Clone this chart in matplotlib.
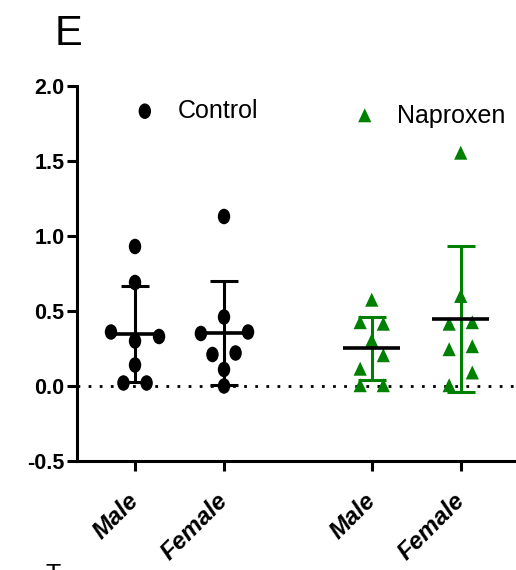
import matplotlib
matplotlib.use('Agg')
import matplotlib.pyplot as plt
import numpy as np
from matplotlib.path import Path
from matplotlib.transforms import ScaledTranslation

# ------------------------
# Data
# ------------------------
groups = ['Male', 'Female', 'Male', 'Female']
treatment = ['Control', 'Control', 'Naproxen', 'Naproxen']

control_male = [0.93, 0.69, 0.36, 0.30, 0.33, 0.14, 0.02, 0.02]
control_female = [1.13, 0.46, 0.35, 0.36, 0.21, 0.22, 0.11, 0.00]
naproxen_male = [0.57, 0.42, 0.41, 0.30, 0.20, 0.11, 0.00, 0.00]
naproxen_female = [1.55, 0.595, 0.41, 0.42, 0.24, 0.26, 0.085, 0.00]

series = [control_male, control_female, naproxen_male, naproxen_female]

# horizontal spread of the dots (category units)
spread = [
    [0, 0, -0.27, 0, 0.27, 0, -0.13, 0.13],
    [0, 0, -0.26, 0.27, -0.13, 0.13, 0, 0],
    [0, -0.13, 0.13, 0, 0.13, -0.13, -0.13, 0.13],
    [0, 0, -0.13, 0.13, -0.13, 0.13, 0.13, -0.13],
]

positions = [0, 1, 2.66, 3.66]

# ------------------------
# Style
# ------------------------
plt.rcParams['font.family'] = ['Liberation Sans', 'DejaVu Sans']

black = '#000000'
green = '#008000'
colors = [black, black, green, green]

# slightly tall markers
circ = Path.unit_circle()
dot = Path(circ.vertices * np.array([0.8, 1.0]), circ.codes)
tri = Path(np.array([[0, 1], [-0.85, -0.8], [0.85, -0.8], [0, 1]]),
           [Path.MOVETO, Path.LINETO, Path.LINETO, Path.CLOSEPOLY])
markers = [dot, dot, tri, tri]

fig = plt.figure(figsize=(5.16, 5.70), dpi=100)
fig.patch.set_facecolor('white')
ax = fig.add_axes([77 / 516, 1 - 461 / 570, 1 - 77 / 516, (461 - 86) / 570])

# zero reference line
ax.axhline(0, color='black', lw=2.0, ls=(0, (1, 3)), zorder=1)

handles = {}
for i, vals in enumerate(series):
    vals = np.array(vals)
    x0 = positions[i]
    m = vals.mean()
    sd = vals.std(ddof=1)
    ax.errorbar(x0, m, yerr=sd, color=colors[i], lw=2.2, capsize=10,
                capthick=2.2, zorder=2)
    ax.hlines(m, x0 - 0.32, x0 + 0.32, color='black', lw=2.6, zorder=5)
    sc = ax.scatter(x0 + np.array(spread[i]), vals, marker=markers[i],
                    s=125, color=colors[i], edgecolors='none', zorder=4)
    handles[treatment[i]] = sc

ax.set_xlim(-0.652, 4.281)
ax.set_ylim(-0.5, 2.0)
ax.set_yticks([-0.5, 0.0, 0.5, 1.0, 1.5, 2.0])
ax.set_yticklabels(['-0.5', '0.0', '0.5', '1.0', '1.5', '2.0'],
                   fontsize=15.5, fontweight='bold')
ax.set_xticks(positions)
ax.set_xticklabels(groups, fontsize=17.5, fontweight='bold', style='italic',
                   rotation=45, ha='right', va='center',
                   rotation_mode='anchor')
nudge = ScaledTranslation(4 / 100, 0, fig.dpi_scale_trans)
for lbl in ax.get_xticklabels():
    lbl.set_transform(lbl.get_transform() + nudge)

ax.spines['top'].set_visible(False)
ax.spines['right'].set_visible(False)
for side in ['left', 'bottom']:
    ax.spines[side].set_linewidth(2.2)
ax.tick_params(axis='both', width=2.2, length=7, direction='out')
ax.tick_params(axis='y', pad=2)
ax.tick_params(axis='x', pad=19)

# legend on two separate anchors
leg1 = ax.legend([handles['Control']], ['Control'], loc='center left',
                 bbox_to_anchor=(0.126, 0.934), frameon=False, fontsize=18,
                 borderpad=0, handlelength=1.0, handletextpad=0.8,
                 borderaxespad=0)
ax.add_artist(leg1)
ax.legend([handles['Naproxen']], ['Naproxen'], loc='center left',
          bbox_to_anchor=(0.627, 0.921), frameon=False, fontsize=18,
          borderpad=0, handlelength=1.0, handletextpad=0.8, borderaxespad=0)

# panel letters
fig.text(55 / 516, 1 - 45 / 570, 'E', fontsize=30, va='baseline', ha='left')
fig.text(46 / 516, 1 - 563 / 570, 'T', fontsize=18, va='top', ha='left')

fig.savefig('out.png', dpi=100, facecolor='white')
